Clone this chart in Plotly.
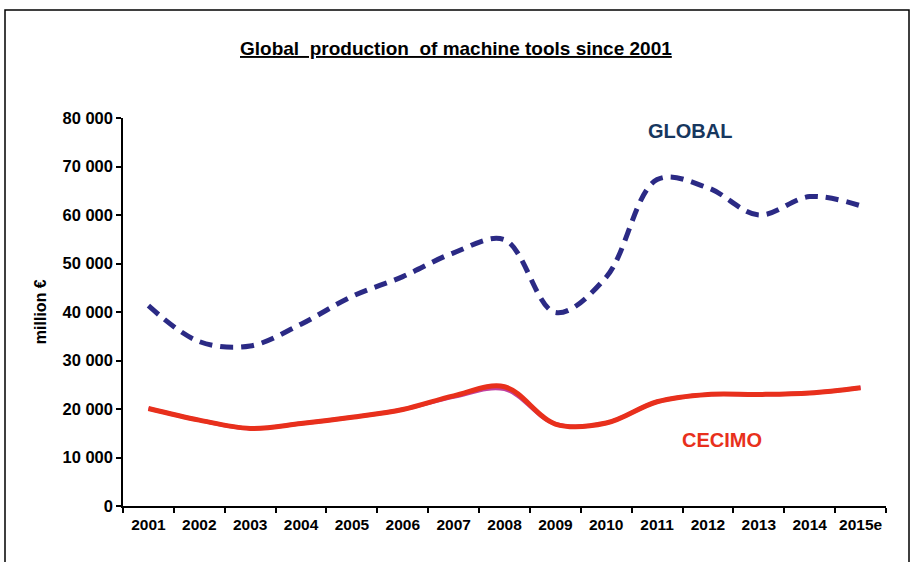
import plotly.graph_objects as go

years = ["2001", "2002", "2003", "2004", "2005", "2006", "2007", "2008",
         "2009", "2010", "2011", "2012", "2013", "2014", "2015e"]
global_prod = [41300, 33900, 33000, 37500, 43200, 47300, 52200, 54900,
               39900, 47200, 67300, 65600, 60000, 63800, 61900]
cecimo_prod = [20100, 17700, 16000, 17000, 18300, 19900, 22700, 24600,
               16900, 17100, 21500, 23000, 23000, 23300, 24400]
cecimo_alt = [20100, 17700, 16000, 17000, 18300, 19900, 22500, 24100,
              16900, 17100, 21500, 23000, 23000, 23300, 24400]
y_ticks = [0, 10000, 20000, 30000, 40000, 50000, 60000, 70000, 80000]
y_tick_text = ["0", "10 000", "20 000", "30 000", "40 000", "50 000",
               "60 000", "70 000", "80 000"]

W, H = 912, 562
L, T = 123, 118
R = W - 886
B = H - 505.7
pw, ph = W - L - R, H - T - B

def px(xp):
    return (xp - L) / pw

def py(yp):
    return (H - B - yp) / ph

FONT = "Liberation Sans, Arial, sans-serif"

fig = go.Figure()
fig.add_trace(go.Scatter(x=years, y=cecimo_alt, mode="lines",
                         line=dict(color="#C040A0", width=4, shape="spline", smoothing=1.0),
                         showlegend=False, hoverinfo="skip"))
fig.add_trace(go.Scatter(x=years, y=cecimo_prod, mode="lines", name="CECIMO",
                         line=dict(color="#E8301C", width=5, shape="spline", smoothing=1.0),
                         showlegend=False))
fig.add_trace(go.Scatter(x=years, y=global_prod, mode="lines", name="GLOBAL",
                         line=dict(color="#2B2A85", width=5, dash="13px,8px",
                                   shape="spline", smoothing=1.0),
                         showlegend=False))

fig.update_layout(
    width=W, height=H,
    margin=dict(l=L, r=R, t=T, b=B, autoexpand=False),
    paper_bgcolor="white", plot_bgcolor="white",
    font=dict(family=FONT, size=16, color="black"),
    hovermode=False,
    xaxis=dict(type="category", tickson="boundaries", range=[-0.5, 14.5],
               ticks="outside", ticklen=5, tickangle=0, ticklabelstandoff=4,
               tickwidth=1.5, tickcolor="black", showline=True, linecolor="black",
               linewidth=1.5, showgrid=False, zeroline=False, automargin=False,
               tickfont=dict(family=FONT, size=15.5, color="black", weight="bold")),
    yaxis=dict(range=[0, 80000], tickvals=y_ticks, ticktext=y_tick_text,
               ticks="outside", ticklen=5, tickwidth=1.5, tickcolor="black",
               showline=True, linecolor="black", linewidth=1.5, showgrid=False,
               zeroline=False, automargin=False,
               tickfont=dict(family=FONT, size=16.5, color="black", weight="bold")),
    shapes=[dict(type="rect", xref="paper", yref="paper",
                 x0=px(5), x1=px(909), y0=py(620), y1=py(10),
                 line=dict(color="black", width=1.5), fillcolor="rgba(0,0,0,0)",
                 layer="below")],
    annotations=[
        dict(text="<u><b>Global  production  of machine tools since 2001</b></u>",
             xref="paper", yref="paper", x=px(456), y=py(49), showarrow=False,
             xanchor="center", yanchor="middle",
             font=dict(family=FONT, size=19, color="black")),
        dict(text="<b>million €</b>", xref="paper", yref="paper",
             x=px(40), y=py(312), showarrow=False, textangle=-90,
             xanchor="center", yanchor="middle",
             font=dict(family=FONT, size=16, color="black")),
        dict(text="<b>GLOBAL</b>", xref="paper", yref="paper",
             x=px(690), y=py(131), showarrow=False, xanchor="center", yanchor="middle",
             font=dict(family=FONT, size=20, color="#17375E")),
        dict(text="<b>CECIMO</b>", xref="paper", yref="paper",
             x=px(722), y=py(440), showarrow=False, xanchor="center", yanchor="middle",
             font=dict(family=FONT, size=20, color="#E8301C")),
    ],
)

fig.write_html(
    "out.html",
    config={"displayModeBar": False},
    post_script="document.body.style.margin='0px';document.body.style.overflow='hidden';",
)
